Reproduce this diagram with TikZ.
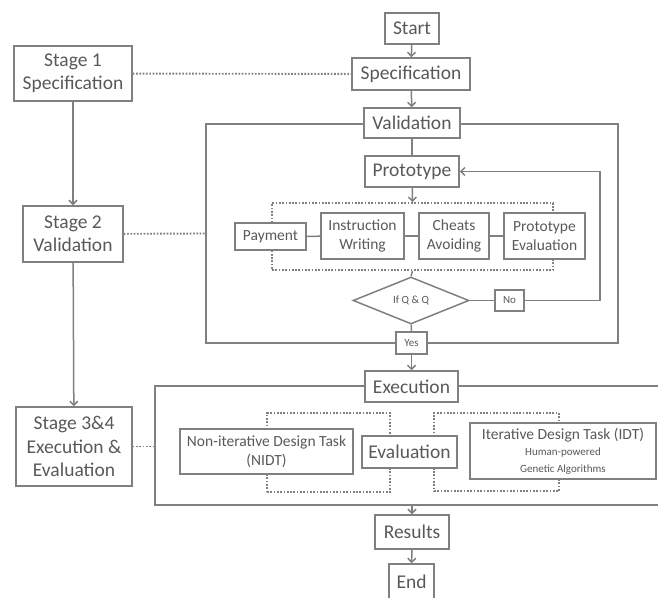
\documentclass[tikz,border=0pt]{standalone}
\usepackage{fontspec}
\setmainfont{Carlito}
\usetikzlibrary{arrows.meta,shapes.geometric}
\definecolor{linegray}{RGB}{128,128,128}
\definecolor{textgray}{RGB}{89,89,89}
\newcommand{\smallsz}{\fontsize{11}{13}\selectfont}
\begin{document}
\begin{tikzpicture}[x=1pt, y=-1pt,
  fbox/.style={rectangle, draw=linegray, fill=white, text=textgray, line width=1.5pt, inner sep=0pt, align=center},
  bigtxt/.style={font={\fontsize{19.5}{23.4}\selectfont}},
  midtxt/.style={font={\fontsize{15.5}{18.6}\selectfont}},
  smalltxt/.style={font={\smallsz}},
  outerbox/.style={rectangle, draw=linegray, line width=1.5pt, inner sep=0pt},
  dotbox/.style={rectangle, draw=linegray, line width=1.9pt, dash pattern=on 1.7pt off 1.6pt, inner sep=0pt},
  link/.style={draw=linegray, line width=1.5pt},
  arr/.style={link, -{Straight Barb[length=4pt,width=8pt]}},
  dotlink/.style={link, line width=1.9pt, dash pattern=on 1.7pt off 1.6pt}
]
\useasboundingbox (0,0) rectangle (658,597);
\clip (0,0) rectangle (658,597);
\node[outerbox, minimum width=412pt, minimum height=219pt] (vframe) at (412,233.5) {};
\draw[link] (660,386) -- (155,386) -- (155,505) -- (660,505);
\coordinate (xleft) at (155,446.5);
\coordinate (xbottom) at (412,505);
\node[dotbox, minimum width=281pt, minimum height=67pt] (grp) at (412.5,236.5) {};
\node[dotbox, minimum width=123pt, minimum height=79pt] (ngrp) at (328.5,452.5) {};
\node[dotbox, minimum width=125pt, minimum height=78pt] (igrp) at (496.5,452) {};

\node[fbox, bigtxt, minimum width=54pt, minimum height=31pt] (start) at (412,28.5) {Start};
\node[fbox, bigtxt, minimum width=118pt, minimum height=32pt] (spec) at (411,74) {Specification};
\node[fbox, bigtxt, minimum width=96pt, minimum height=30pt] (valid) at (412,123) {Validation};
\node[fbox, bigtxt, minimum width=94pt, minimum height=31pt] (proto) at (412,171.5) {Prototype};
\node[fbox, midtxt, minimum width=71pt, minimum height=27pt] (pay) at (270.5,236.5) {Payment};
\node[fbox, midtxt, minimum width=83pt, minimum height=46pt] (instr) at (362.5,236) {Instruction\\Writing};
\node[fbox, midtxt, minimum width=70pt, minimum height=46pt] (cheat) at (454,236) {Cheats\\Avoiding};
\node[fbox, midtxt, minimum width=81pt, minimum height=46pt] (peval) at (544.5,236) {Prototype\\Evaluation};
\node[fbox, smalltxt, diamond, aspect=2.47, minimum width=116pt, minimum height=47pt] (qq) at (411,300.5) {If Q \& Q};
\node[fbox, smalltxt, minimum width=29pt, minimum height=21pt] (no) at (509.5,300.5) {No};
\node[fbox, smalltxt, minimum width=31pt, minimum height=22pt] (yes) at (411.5,343) {Yes};
\node[fbox, bigtxt, minimum width=93pt, minimum height=31pt] (exec) at (411.5,386.5) {Execution};
\node[fbox, midtxt, minimum width=173pt, minimum height=45pt] (nidt) at (266.5,451.5) {Non-iterative Design Task\\(NIDT)};
\node[fbox, bigtxt, minimum width=95pt, minimum height=32pt] (evalu) at (409.5,452) {Evaluation};
\node[fbox, midtxt, minimum width=186pt, minimum height=56pt] (idt) at (563,451) {Iterative Design Task (IDT)\\[-2pt]{\smallsz Human-powered}\\[-2pt]{\smallsz Genetic Algorithms}};
\node[fbox, bigtxt, minimum width=74pt, minimum height=34pt] (results) at (412,532) {Results};
\node[fbox, bigtxt, minimum width=45pt, minimum height=36pt] (endn) at (411.5,582) {End};
\node[fbox, bigtxt, minimum width=118pt, minimum height=55pt] (st1) at (73,73.5) {Stage 1\\Specification};
\node[fbox, bigtxt, minimum width=100pt, minimum height=56pt] (st2) at (73,234) {Stage 2\\Validation};
\node[fbox, bigtxt, minimum width=116pt, minimum height=79pt] (st3) at (74,446.5) {Stage 3\&4\\Execution \&\\Evaluation};

\draw[arr] (start) -- (spec);
\draw[arr] (spec) -- (valid);
\draw[link] (valid) -- (proto);
\draw[arr] (proto) -- (grp.north);
\draw[link] (pay) -- (instr);
\draw[link] (instr) -- (cheat);
\draw[link] (cheat) -- (peval);
\draw[link] (grp.south) -- (qq.north);
\draw[link] (qq) -- (no);
\draw[arr] (no.east) -- ++(75,0) |- (proto.east);
\draw[link] (qq) -- (yes);
\draw[arr] (yes) -- (exec);
\draw[arr] (xbottom) -- (results);
\draw[arr] (results) -- (endn);
\draw[arr] (st1) -- (st2);
\draw[arr] (st2) -- (st3);
\draw[dotlink] (st1) -- (spec);
\draw[dotlink] (st2) -- (vframe.west);
\draw[dotlink] (st3) -- (xleft);
\end{tikzpicture}
\end{document}
